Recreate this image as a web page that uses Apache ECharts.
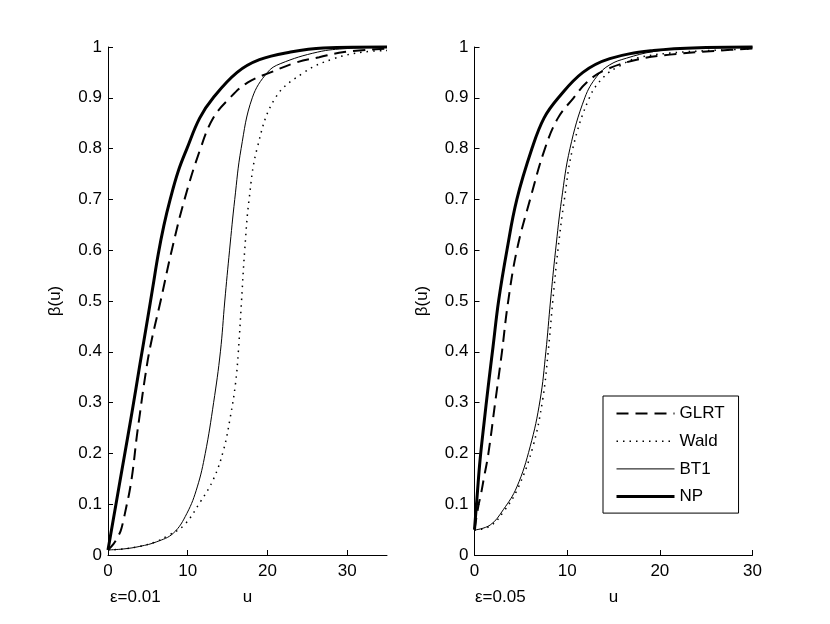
<!DOCTYPE html>
<html>
<head>
<meta charset="utf-8">
<script src="https://cdn.jsdelivr.net/npm/echarts@6/dist/echarts.min.js"></script>
<style>
html,body{margin:0;padding:0;background:#fff;}
#chart{width:830px;height:624px;}
</style>
</head>
<body>
<div id="chart"></div>
<script>
// ---- data ----
const seriesNames = ['GLRT', 'Wald', 'BT1', 'NP'];
const panelLabels = ['\u03b5=0.01', '\u03b5=0.05'];
const xTicks = [0, 10, 20, 30];

// left panel (eps = 0.01), points [u, beta]
const glrtLeft = [[0,0.01],[0.7,0.022],[1.2,0.035],[1.6,0.048],[1.9,0.066],[2.3,0.095],[2.7,0.125],[3.1,0.165],[3.6,0.232],[4.0,0.278],[4.65,0.35],[5.3,0.41],[6.6,0.5],[8,0.6],[9.6,0.7],[11.6,0.8],[13.2,0.86],[15.3,0.9],[17.5,0.93],[20.4,0.95],[23.7,0.97],[26.5,0.98],[29.6,0.99],[35,0.997]];
const waldLeft = [[0,0.01],[2,0.012],[4,0.017],[6,0.026],[7.4,0.037],[9.5,0.058],[11.6,0.105],[13.25,0.15],[14.5,0.207],[15.35,0.272],[16,0.338],[16.35,0.4],[16.75,0.5],[17.15,0.6],[17.7,0.7],[18.7,0.8],[21,0.9],[24.6,0.95],[28.3,0.977],[32,0.99],[35,0.993]];
const bt1Left = [[0,0.01],[2,0.012],[4,0.017],[6.1,0.026],[8.2,0.043],[9.9,0.082],[11.2,0.134],[12.2,0.2],[13.25,0.3],[14.1,0.4],[14.65,0.5],[15.25,0.6],[15.9,0.7],[16.7,0.8],[18.1,0.9],[20,0.95],[21.6,0.967],[26.3,0.99],[30,0.997],[35,1]];
const npLeft = [[0,0.01],[1,0.1],[2,0.19],[3,0.28],[4,0.375],[5,0.468],[5.6,0.525],[6.3,0.592],[7,0.648],[7.8,0.7],[8.8,0.755],[9.9,0.8],[11.5,0.86],[13.2,0.9],[16.2,0.95],[19,0.975],[22.9,0.99],[27,0.998],[35,1]];

// right panel (eps = 0.05)
const glrtRight = [[0,0.05],[0.43,0.098],[0.7,0.12],[1.0,0.15],[1.5,0.2],[2.23,0.3],[2.95,0.398],[3.6,0.495],[4.57,0.6],[6.0,0.7],[7.6,0.8],[9,0.86],[10.7,0.9],[12.1,0.93],[13.9,0.953],[17.5,0.975],[21.1,0.985],[26.5,0.993],[30,0.997]];
const waldRight = [[0,0.049],[1.7,0.057],[3.2,0.087],[4.7,0.132],[6.3,0.213],[7.35,0.305],[7.95,0.4],[8.45,0.5],[9.0,0.6],[9.7,0.7],[10.6,0.8],[12.4,0.9],[14,0.942],[15.7,0.963],[17.5,0.978],[21.1,0.988],[26.5,0.994],[30,0.996]];
const bt1Right = [[0,0.049],[1.69,0.059],[3.1,0.089],[4.57,0.134],[6.0,0.213],[7.08,0.305],[7.7,0.4],[8.2,0.5],[8.75,0.6],[9.4,0.7],[10.3,0.8],[11.9,0.9],[13.2,0.942],[14.6,0.965],[16.4,0.978],[19.3,0.991],[22.9,0.997],[30,1]];
const npRight = [[0,0.05],[0.3,0.12],[0.6,0.187],[1.0,0.255],[1.5,0.335],[2.0,0.41],[2.6,0.5],[3.5,0.6],[4.57,0.7],[6.2,0.8],[7.5,0.86],[9.05,0.9],[11.7,0.95],[14.6,0.977],[19.3,0.993],[25,0.999],[30,1]];

const xMax = [35, 30];

// ---- styles ----
const FONT = 'Liberation Sans, Arial, Helvetica, sans-serif';
const FS = 17;
const styles = {
  GLRT: {color:'#000', width:2, type:[12,7]},
  Wald: {color:'#000', width:1.5, type:[1.5,5]},
  BT1:  {color:'#000', width:1, type:'solid'},
  NP:   {color:'#000', width:3, type:'solid'}
};
const grids = [
  {left:108, top:47, width:279, height:508},
  {left:474.5, top:47, width:278, height:508}
];

function xAxis(i){
  return {
    type:'value', gridIndex:i, min:0, max:xMax[i],
    name:'u', nameLocation:'middle', nameGap:34,
    nameTextStyle:{color:'#000', fontSize:FS, fontFamily:FONT},
    axisLine:{show:true, onZero:false, lineStyle:{color:'#000', width:1}},
    axisTick:{show:true, inside:true, length:5, customValues:xTicks, lineStyle:{color:'#000'}},
    axisLabel:{show:true, margin:8, customValues:xTicks, color:'#000', fontSize:FS, fontFamily:FONT},
    splitLine:{show:false}
  };
}
function yAxis(i){
  return {
    type:'value', gridIndex:i, min:0, max:1, interval:0.1,
    name:'\u03b2(u)', nameLocation:'middle', nameRotate:90, nameGap:44,
    nameTextStyle:{color:'#000', fontSize:FS, fontFamily:FONT},
    axisLine:{show:true, onZero:false, lineStyle:{color:'#000', width:1}},
    axisTick:{show:true, inside:true, length:5, lineStyle:{color:'#000'}},
    axisLabel:{show:true, margin:6, color:'#000', fontSize:FS, fontFamily:FONT,
      formatter:function(v){return String(Math.round(v*10)/10);}},
    splitLine:{show:false}
  };
}
const panelData = [
  {GLRT:glrtLeft, Wald:waldLeft, BT1:bt1Left, NP:npLeft},
  {GLRT:glrtRight, Wald:waldRight, BT1:bt1Right, NP:npRight}
];
const series = [];
[0,1].forEach(function(p){
  seriesNames.forEach(function(n){
    series.push({
      name:n, type:'line', xAxisIndex:p, yAxisIndex:p,
      data:panelData[p][n], symbol:'none', showSymbol:false,
      smooth:0.4, clip:false,
      lineStyle:{color:styles[n].color, width:styles[n].width, type:styles[n].type},
      itemStyle:{color:'#000'},
      emphasis:{disabled:true}, silent:true, animation:false
    });
  });
});

const chart = echarts.init(document.getElementById('chart'), null, {renderer:'canvas'});
chart.setOption({
  backgroundColor:'#fff',
  animation:false,
  grid:grids,
  xAxis:[xAxis(0), xAxis(1)],
  yAxis:[yAxis(0), yAxis(1)],
  legend:{
    show:true, orient:'vertical', left:603, top:396,
    itemWidth:58, itemHeight:14, itemGap:10.7,
    padding:[9,14,8,12],
    backgroundColor:'#fff', borderColor:'#000', borderWidth:1,
    textStyle:{color:'#000', fontSize:FS, fontFamily:FONT},
    selectedMode:false,
    itemStyle:{opacity:0, borderWidth:0},
    data:seriesNames.map(function(n){
      return {name:n, itemStyle:{opacity:0, borderWidth:0},
        lineStyle:{color:'#000', width:styles[n].width, type:styles[n].type}};
    })
  },
  graphic:[
    {type:'text', left:110, top:589, style:{text:panelLabels[0], fill:'#000', font:FS+'px '+FONT}},
    {type:'text', left:475, top:589, style:{text:panelLabels[1], fill:'#000', font:FS+'px '+FONT}}
  ],
  series:series
});
</script>
</body>
</html>
